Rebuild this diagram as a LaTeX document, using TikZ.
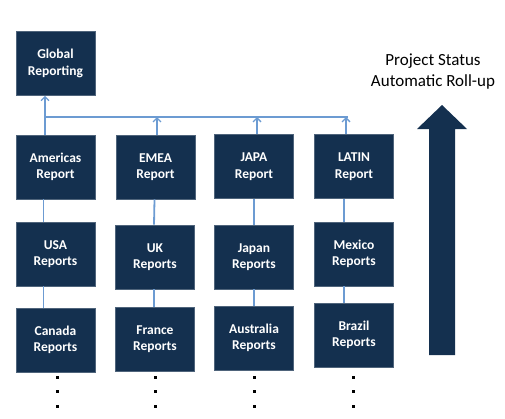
\documentclass[tikz,border=0pt]{standalone}
\usepackage{fontspec}
\setmainfont{Carlito}
\usetikzlibrary{arrows.meta, positioning, calc}
\definecolor{navy}{HTML}{14304F}
\definecolor{linkblue}{HTML}{6C9BD2}

\begin{document}
\begin{tikzpicture}[x=1pt, y=-1pt,
    box/.style={draw=navy!75!white, line width=0.6pt, fill=navy, minimum width=79pt,
                minimum height=64pt, inner sep=0pt, align=center, text=white,
                font=\fontsize{13.5}{16.5}\selectfont\bfseries},
    link/.style={draw=linkblue, line width=1.8pt},
    uparrow/.style={link, -{Straight Barb[length=4pt, width=8pt, line width=1.3pt]}},
    title/.style={align=center, font=\fontsize{17}{21}\selectfont},
]
\useasboundingbox (0,0) rectangle (505,418);

% Grid layout
% x cols : 55=Americas, 155=EMEA, 254=JAPA, 354=LATIN
% y rows : 64=global, 167=regions, 256=countries, 338=more countries

\node[box] at (55.5, 63.5) (glob)   {Global\\Reporting};

\node[box] at (55.5, 167)   (amer)   {Americas\\Report};
\node[box] at (155.5, 167)  (emea)   {EMEA\\Report};
\node[box] at (254, 166.5)  (japa)   {JAPA\\Report};
\node[box] at (354, 166.5)  (latin)  {LATIN\\Report};

\node[box] at (55.5, 254)   (usa)    {USA\\Reports};
\node[box] at (155, 257)    (uk)     {UK\\Reports};
\node[box] at (254, 257)    (japan)  {Japan\\Reports};
\node[box] at (354, 254)    (mexico) {Mexico\\Reports};

\node[box] at (55.5, 340)   (canada) {Canada\\Reports};
\node[box] at (155, 339)    (france) {France\\Reports};
\node[box] at (254, 338)    (austr)  {Australia\\Reports};
\node[box] at (354, 335)    (brazil) {Brazil\\Reports};

% roll-up bus
\coordinate (busL) at (45, 117);
\coordinate (busR) at (348, 117);
\draw[link] (busL) -- (busR);

% regions -> bus / global
\draw[uparrow] ([xshift=-10.5pt]amer.north) -- ([xshift=-10.5pt]glob.south);
\draw[uparrow] ([xshift=1.5pt]emea.north)   -- ([xshift=1.5pt]emea.north |- busL);
\draw[uparrow] ([xshift=3pt]japa.north)     -- ([xshift=3pt]japa.north |- busL);
\draw[uparrow] ([xshift=-8pt]latin.north)   -- ([xshift=-8pt]latin.north |- busL);

% countries -> regions
\draw[link] ([xshift=-12pt]usa.north)    -- ([xshift=-12pt]amer.south);
\draw[link] ([xshift=-12pt]canada.north) -- ([xshift=-12pt]usa.south);
\draw[link] ([xshift=-1pt]uk.north)      -- ([xshift=-1pt]emea.south);
\draw[link] ([xshift=-1pt]france.north)  -- ([xshift=-1pt]uk.south);
\draw[link] (japan.north) -- (japa.south);
\draw[link] (austr.north) -- (japan.south);
\draw[link] ([xshift=-10pt]mexico.north) -- ([xshift=-10pt]latin.south);
\draw[link] ([xshift=-10pt]brazil.north) -- ([xshift=-10pt]mexico.south);

% more to come
\foreach \x in {57,155,254,353}
  \foreach \y in {377,391,406}
    \fill (\x-1.5, \y-1.5) rectangle ++(3,3);

% roll-up arrow
\node[title] at (433, 71.5) (head) {Project Status\\Automatic Roll-up};
\fill[navy] (429,355) -- (429,129) -- (417,129) -- (442,105) -- (467,129)
            -- (455,129) -- (455,355) -- cycle;
\end{tikzpicture}
\end{document}
